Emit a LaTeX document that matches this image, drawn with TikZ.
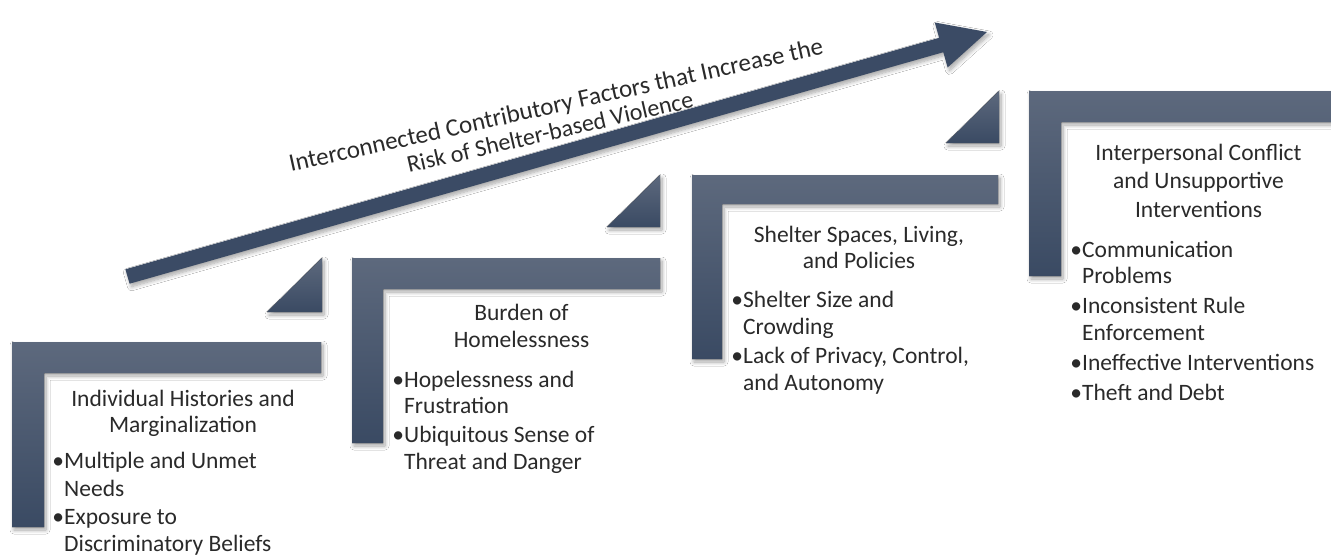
\documentclass[tikz,border=0pt]{standalone}
\usepackage{fontspec}
\setmainfont{Carlito}
\usetikzlibrary{shadows.blur}
\definecolor{stepTop}{HTML}{5D697D}
\definecolor{stepBot}{HTML}{3A4A63}
\definecolor{arrowCol}{HTML}{3B4B65}
\definecolor{txt}{HTML}{2A2A2A}
\newcommand{\mybul}{\llap{\makebox[12pt][c]{•}}}
\tikzset{
  stepL/.style={top color=stepTop, bottom color=stepBot, draw=none,
    blur shadow={shadow xshift=2pt, shadow yshift=-3pt, shadow blur steps=8, shadow blur radius=4pt, shadow opacity=35}},
  tri/.style={top color=stepTop, bottom color=stepBot, draw=none,
    blur shadow={shadow xshift=2pt, shadow yshift=-3pt, shadow blur steps=8, shadow blur radius=4pt, shadow opacity=35}},
  bigarrow/.style={fill=arrowCol, draw=none,
    blur shadow={shadow xshift=2pt, shadow yshift=-3pt, shadow blur steps=8, shadow blur radius=4pt, shadow opacity=35}},
  ttl/.style={anchor=base, inner sep=0pt, text=txt, font=\fontsize{23.5}{28}\selectfont},
  bl/.style={anchor=base west, inner sep=0pt, text=txt, font=\fontsize{23.5}{28}\selectfont},
  arrtxt/.style={anchor=base west, inner sep=0pt, text=txt, rotate=12.5, font=\fontsize{25}{30}\selectfont},
}
\begin{document}
\begin{tikzpicture}[x=1pt,y=-1pt]
\useasboundingbox[fill=white] (0,0) rectangle (1331,555);

% big arrow
\fill[bigarrow] (125.4,269.3) -- (939.1,37.8) -- (934.8,22.5) -- (987,32) -- (947.6,67.5) -- (943.3,52.2) -- (129.6,283.7) -- cycle;
\node[arrtxt] (at1) at (291,172) {Interconnected Contributory Factors that Increase the};
\node[arrtxt, rotate=0.5, font=\fontsize{24}{30}\selectfont] (at2) at (409,173) {Risk of Shelter-based Violence};

% triangles
\fill[tri] (267,312) -- (322,258) -- (322,312) -- cycle;
\fill[tri] (607,227) -- (660,175) -- (660,227) -- cycle;
\fill[tri] (946,143) -- (999,91) -- (999,143) -- cycle;

% L shapes
\fill[stepL] (12,342) -- (321,342) -- (321,373) -- (44,373) -- (44,527) -- (12,527) -- cycle;
\fill[stepL] (352,258) -- (660,258) -- (660,289) -- (383,289) -- (383,443) -- (352,443) -- cycle;
\fill[stepL] (692,175) -- (998,175) -- (998,204) -- (722,204) -- (722,359) -- (692,359) -- cycle;
\fill[stepL] (1029,91) -- (1340,91) -- (1340,122) -- (1061,122) -- (1061,276) -- (1029,276) -- cycle;

% step 1 text
\node[ttl] (t1a) at (183,406) {Individual Histories and};
\node[ttl] (t1b) at (183,432) {Marginalization};
\node[bl] (b1a) at (64,468) {\mybul Multiple and Unmet};
\node[bl] (b1b) at (64,496) {Needs};
\node[bl] (b1c) at (64,524) {\mybul Exposure to};
\node[bl] (b1d) at (64,551) {Discriminatory Beliefs};

% step 2 text
\node[ttl] (t2a) at (521.5,320) {Burden of};
\node[ttl] (t2b) at (521.5,347) {Homelessness};
\node[bl] (b2a) at (404,387) {\mybul Hopelessness and};
\node[bl] (b2b) at (404,413) {Frustration};
\node[bl] (b2c) at (404,442) {\mybul Ubiquitous Sense of};
\node[bl] (b2d) at (404,469) {Threat and Danger};

% step 3 text
\node[ttl] (t3a) at (859,242) {Shelter Spaces, Living,};
\node[ttl] (t3b) at (859,268) {and Policies};
\node[bl] (b3a) at (743,307) {\mybul Shelter Size and};
\node[bl] (b3b) at (743,334) {Crowding};
\node[bl] (b3c) at (743,363) {\mybul Lack of Privacy, Control,};
\node[bl] (b3d) at (743,390) {and Autonomy};

% step 4 text
\node[ttl] (t4a) at (1198.5,160) {Interpersonal Conflict};
\node[ttl] (t4b) at (1198.5,188) {and Unsupportive};
\node[ttl] (t4c) at (1198.5,217) {Interventions};
\node[bl] (b4a) at (1082,257) {\mybul Communication};
\node[bl] (b4b) at (1082,283) {Problems};
\node[bl] (b4c) at (1082,313) {\mybul Inconsistent Rule};
\node[bl] (b4d) at (1082,340) {Enforcement};
\node[bl] (b4e) at (1082,370) {\mybul Ineffective Interventions};
\node[bl] (b4f) at (1082,400) {\mybul Theft and Debt};
\end{tikzpicture}
\end{document}
